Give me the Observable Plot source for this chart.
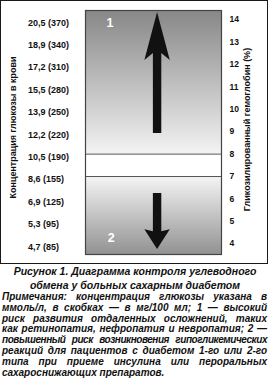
<!DOCTYPE html>
<html><head><meta charset="utf-8">
<script src="https://cdn.jsdelivr.net/npm/d3@7"></script>
<script src="https://cdn.jsdelivr.net/npm/@observablehq/plot@0.6"></script>
<style>
body{margin:0;background:#fff;width:270px;height:378px;overflow:hidden;font-family:"Liberation Sans",Arial,sans-serif;color:#111}
#wrap{position:relative;width:270px;height:265px}
#chart svg, #chart svg text{font-family:"Liberation Sans",Arial,sans-serif !important}
#border{position:absolute;left:0;top:0;width:266px;height:262px;border:1.5px solid #1a1a1a;pointer-events:none}
#cap{font-weight:bold;font-style:italic;font-size:10.5px;line-height:13.8px;text-align:center;margin:0;}
#notes{font-weight:bold;font-style:italic;font-size:10px;line-height:10.8px;padding:0 3px 0 2px;margin-top:-0.5px}
#notes div{text-align:justify;text-align-last:justify;white-space:nowrap}
#notes div.last{text-align-last:left}
#notes div.tight{letter-spacing:-0.45px}
</style></head>
<body>
<div id="wrap"><div id="chart"></div><div id="border"></div></div>
<div id="cap"></div>
<div id="notes"></div>
<script>
// ---- data ----
const hba1cTicks = [14, 13, 12, 11, 10, 9, 8, 7, 6, 5, 4];
const glucoseLabels = ["20,5 (370)", "18,9 (340)", "17,2 (310)", "15,5 (280)", "13,9 (250)", "12,2 (220)", "10,5 (190)", "8,6 (155)", "6,9 (125)", "5,3 (95)", "4,7 (85)"];
const yDomain = [3.52, 14.41];
const targetBand = [7, 8];
const zoneLabels = ["1", "2"];
const zoneLabelY = [13.85, 4.26];
const zoneLabelX = [0.18, 0.19];
const arrowTail = [8.92, 6.24];
const arrowNeck = [12.18, 4.63];
const arrowTip = [14.32, 3.74];
const arrowX = 0.53;
const leftTitle = "Концентрация глюкозы в крови";
const rightTitle = "Гликозилированный гемоглобин (%)";
const captionLines = ["Рисунок 1. Диаграмма контроля углеводного", "обмена у больных сахарным диабетом"];
const noteLines = [
  "Примечания: концентрация глюкозы указана в",
  "ммоль/л, в скобках — в мг/100 мл; 1 — высокий",
  "риск развития отдаленных осложнений, таких",
  "как ретинопатия, нефропатия и невропатия; 2 —",
  "повышенный риск возникновения гипогликемических",
  "реакций для пациентов с диабетом 1-го или 2-го",
  "типа при приеме инсулина или пероральных",
  "сахароснижающих препаратов."
];

const FONT = "Liberation Sans, Arial, sans-serif";

function gradientDefs() {
  return () => {
    const defs = d3.create("svg:defs");
    const a = defs.append("linearGradient").attr("id", "gradHigh").attr("x1", 0).attr("y1", 0).attr("x2", 0).attr("y2", 1);
    a.append("stop").attr("offset", 0).attr("stop-color", "#878787");
    a.append("stop").attr("offset", 1).attr("stop-color", "#f3f3f3");
    const b = defs.append("linearGradient").attr("id", "gradLow").attr("x1", 0).attr("y1", 0).attr("x2", 0).attr("y2", 1);
    b.append("stop").attr("offset", 0).attr("stop-color", "#f5f5f5");
    b.append("stop").attr("offset", 1).attr("stop-color", "#929292");
    return defs.node();
  };
}

function arrows() {
  return (index, scales) => {
    const g = d3.create("svg:g");
    const shaft = 4.2, head = 12.7;
    arrowTail.forEach((t, i) => {
      const x = scales.x(arrowX);
      const yT = scales.y(t), yN = scales.y(arrowNeck[i]), yP = scales.y(arrowTip[i]);
      const s = Math.sign(yP - yT);
      const sweep = i === 0 ? 7 : 2;
      const yJ = yN + s * sweep;
      const pts = [[x - shaft, yT], [x - shaft, yJ], [x - head, yN], [x, yP], [x + head, yN], [x + shaft, yJ], [x + shaft, yT]];
      g.append("path").attr("d", "M" + pts.map(p => p.join(",")).join("L") + "Z").attr("fill", "#111");
    });
    return g.node();
  };
}

const chart = Plot.plot({
  width: 270,
  height: 265,
  marginLeft: 85,
  marginRight: 49,
  marginTop: 10,
  marginBottom: 11,
  x: {domain: [0, 1], axis: null},
  y: {domain: yDomain, axis: null},
  style: "font-family: Liberation Sans, Arial, sans-serif; background: transparent; color: #111;",
  marks: [
    gradientDefs(),
    Plot.rect([0], {x1: 0, x2: 1, y1: targetBand[1], y2: yDomain[1], fill: "url(#gradHigh)"}),
    Plot.rect([0], {x1: 0, x2: 1, y1: yDomain[0], y2: targetBand[0], fill: "url(#gradLow)"}),
    Plot.ruleY(targetBand, {stroke: "#555", strokeWidth: 1}),
    Plot.frame({stroke: "#444", strokeWidth: 1.2}),
    arrows(),
    Plot.text(zoneLabels, {x: (d, i) => zoneLabelX[i], y: (d, i) => zoneLabelY[i], text: d => d, fill: "white", fontSize: 12.5, fontWeight: "bold", fontFamily: FONT}),
    Plot.text(hba1cTicks, {y: d => d, text: (d, i) => glucoseLabels[i], frameAnchor: "left", dx: -57.5, dy: 3, textAnchor: "start", fontSize: 9, fontWeight: "bold", fill: "#111", fontFamily: FONT}),
    Plot.text(hba1cTicks, {y: d => d, text: d => String(d), frameAnchor: "right", dx: 8, textAnchor: "start", fontSize: 8.5, fontWeight: "bold", fill: "#111", fontFamily: FONT}),
    Plot.text([leftTitle], {frameAnchor: "left", dx: -72, dy: -5, rotate: -90, textAnchor: "middle", text: d => d, fontSize: 9, fontWeight: "bold", fill: "#111", fontFamily: FONT}),
    Plot.text([rightTitle], {frameAnchor: "right", dx: 26, dy: -3, rotate: -90, textAnchor: "middle", text: d => d, fontSize: 9, fontWeight: "bold", fill: "#111", fontFamily: FONT})
  ]
});
document.getElementById("chart").appendChild(chart);

const cap = document.getElementById("cap");
captionLines.forEach(l => { const d = document.createElement("div"); d.textContent = l; cap.appendChild(d); });
const notes = document.getElementById("notes");
noteLines.forEach((l, i) => {
  const d = document.createElement("div");
  d.textContent = l;
  if (i === noteLines.length - 1) d.className = "last";
  if (i === 4) d.className = "tight";
  notes.appendChild(d);
});
</script>
</body></html>
